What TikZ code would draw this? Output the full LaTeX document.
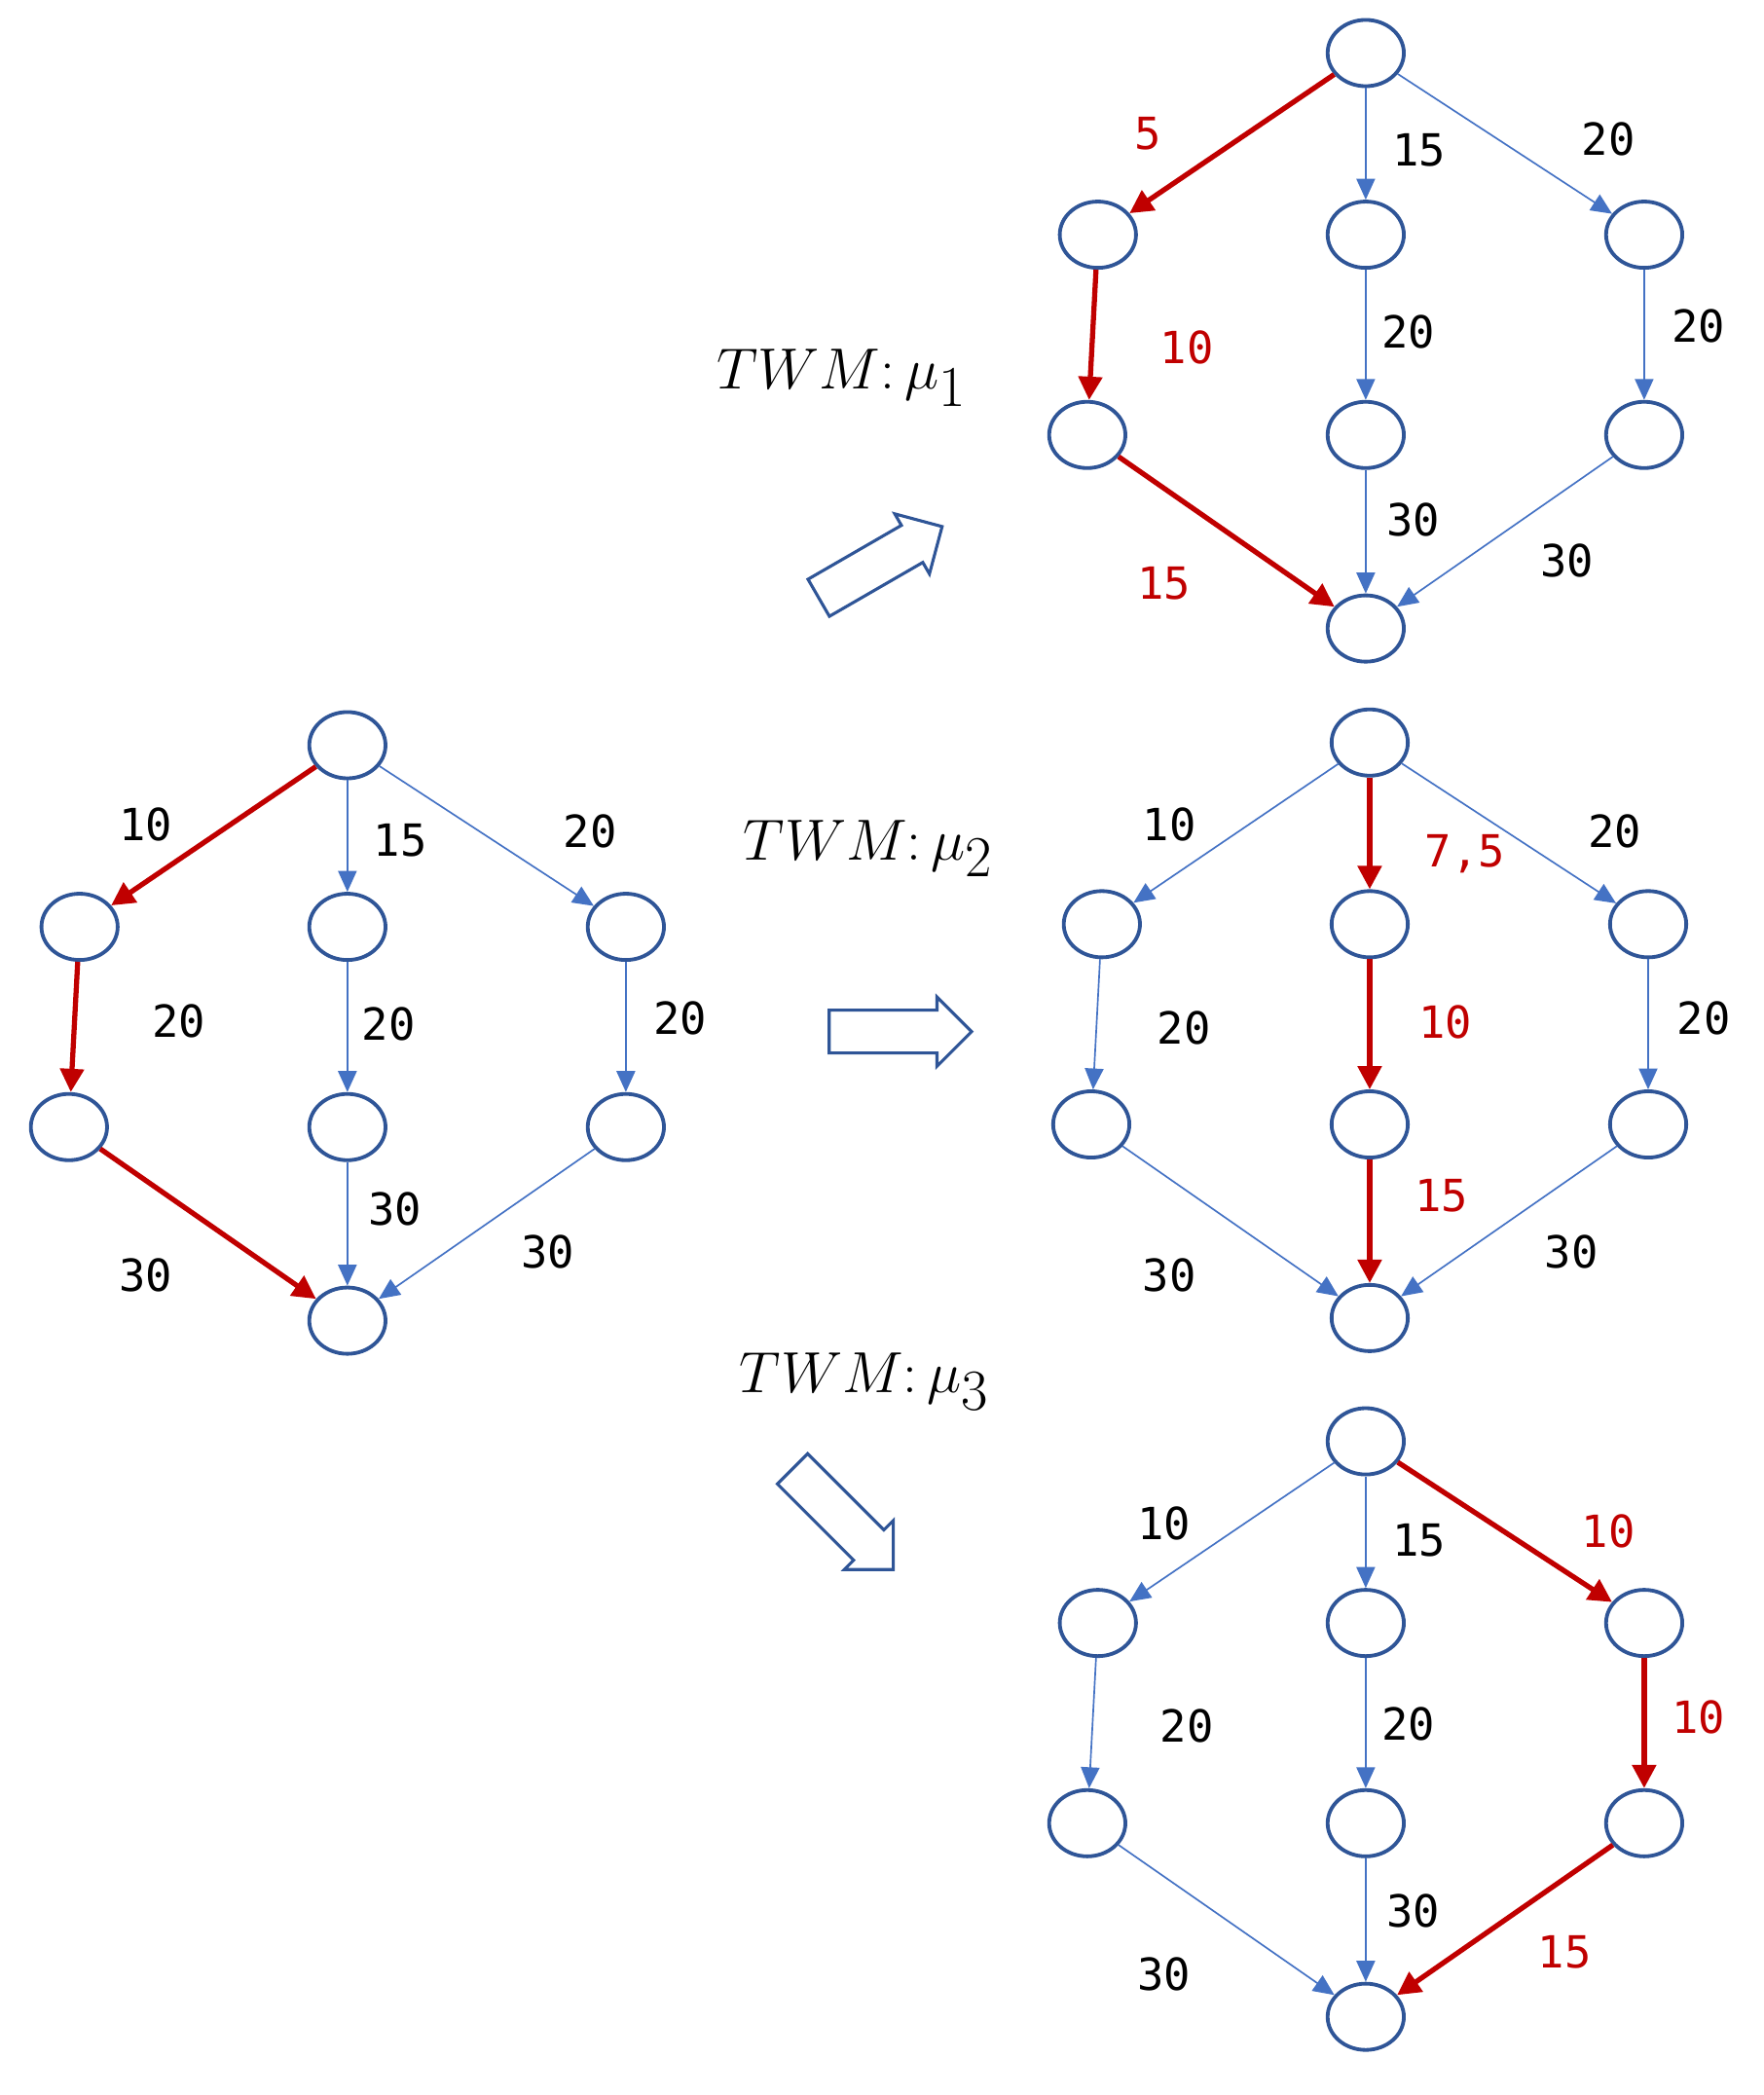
\documentclass[tikz,border=0pt]{standalone}
\usepackage{fontspec}
\newfontfamily\mono{DejaVu Sans Mono}
\usetikzlibrary{shapes.arrows,arrows.meta,shapes.geometric}
\definecolor{nb}{HTML}{2F5597}
\definecolor{eb}{HTML}{4472C4}
\definecolor{er}{HTML}{C00000}
\tikzset{
 v/.style={draw=nb,line width=1.6pt,ellipse,minimum width=1.15cm,minimum height=1.0cm,inner sep=0pt},
 e/.style={draw=eb,line width=0.7pt,-{Triangle[length=9pt,width=8pt]}},
 r/.style={draw=er,line width=2.2pt,-{Triangle[length=10pt,width=10pt]}},
 lb/.style={font=\mono\fontsize{19}{19}\selectfont},
 lr/.style={lb,text=er},
 tw/.style={font=\fontsize{38}{38}\selectfont},
 ha/.style={single arrow,draw=nb,line width=1.3pt,fill=white,minimum height=2.15cm,inner xsep=0pt,inner ysep=0.3cm,single arrow head extend=0.2cm}
}
\newcommand\mygraph[3]{
 \begin{scope}[shift={(#2,#3)}]
 \node[v] (#1t) at (0,0) {};
 \node[v] (#1a) at (-202,137) {};
 \node[v] (#1b) at (0,137) {};
 \node[v] (#1c) at (210,137) {};
 \node[v] (#1d) at (-210,288) {};
 \node[v] (#1e) at (0,288) {};
 \node[v] (#1f) at (210,288) {};
 \node[v] (#1z) at (0,434) {};
 \end{scope}}
\begin{document}
\begin{tikzpicture}[x=0.02cm,y=-0.02cm]
\useasboundingbox (0,0) rectangle (1330,1580);
\mygraph{L}{262}{562}
\draw[r] (Lt) -- (La); \draw[e] (Lt) -- (Lb); \draw[e] (Lt) -- (Lc);
\draw[r] (La) -- (Ld); \draw[e] (Lb) -- (Le); \draw[e] (Lc) -- (Lf);
\draw[r] (Ld) -- (Lz); \draw[e] (Le) -- (Lz); \draw[e] (Lf) -- (Lz);
\node[lb] (l1) at (110,622) {10}; \node[lb] (l2) at (302,634) {15}; \node[lb] (l3) at (445,627) {20};
\node[lb] (l4) at (135,770) {20}; \node[lb] (l5) at (293,772) {20}; \node[lb] (l6) at (513,768) {20};
\node[lb] (l7) at (298,912) {30}; \node[lb] (l8) at (110,962) {30}; \node[lb] (l9) at (413,944) {30};
\mygraph{A}{1030}{40}
\draw[r] (At) -- (Aa); \draw[e] (At) -- (Ab); \draw[e] (At) -- (Ac);
\draw[r] (Aa) -- (Ad); \draw[e] (Ab) -- (Ae); \draw[e] (Ac) -- (Af);
\draw[r] (Ad) -- (Az); \draw[e] (Ae) -- (Az); \draw[e] (Af) -- (Az);
\node[lr] (a1) at (866,101) {5}; \node[lb] (a2) at (1070,113) {15}; \node[lb] (a3) at (1213,105) {20};
\node[lr] (a4) at (895,262) {10}; \node[lb] (a5) at (1062,250) {20}; \node[lb] (a6) at (1281,246) {20};
\node[lb] (a7) at (1066,392) {30}; \node[lr] (a8) at (878,440) {15}; \node[lb] (a9) at (1182,423) {30};
\mygraph{B}{1033}{560}
\draw[e] (Bt) -- (Ba); \draw[r] (Bt) -- (Bb); \draw[e] (Bt) -- (Bc);
\draw[e] (Ba) -- (Bd); \draw[r] (Bb) -- (Be); \draw[e] (Bc) -- (Bf);
\draw[e] (Bd) -- (Bz); \draw[r] (Be) -- (Bz); \draw[e] (Bf) -- (Bz);
\node[lb] (b1) at (882,622) {10}; \node[lr] (b2) at (1105,644) {7,5}; \node[lb] (b3) at (1218,627) {20};
\node[lb] (b4) at (893,775) {20}; \node[lr] (b5) at (1090,771) {10}; \node[lb] (b6) at (1285,768) {20};
\node[lr] (b7) at (1087,902) {15}; \node[lb] (b8) at (882,962) {30}; \node[lb] (b9) at (1185,944) {30};
\mygraph{C}{1030}{1087}
\draw[e] (Ct) -- (Ca); \draw[e] (Ct) -- (Cb); \draw[r] (Ct) -- (Cc);
\draw[e] (Ca) -- (Cd); \draw[e] (Cb) -- (Ce); \draw[r] (Cc) -- (Cf);
\draw[e] (Cd) -- (Cz); \draw[e] (Ce) -- (Cz); \draw[r] (Cf) -- (Cz);
\node[lb] (c1) at (878,1149) {10}; \node[lb] (c2) at (1070,1162) {15}; \node[lr] (c3) at (1213,1155) {10};
\node[lb] (c4) at (895,1302) {20}; \node[lb] (c5) at (1062,1300) {20}; \node[lr] (c6) at (1281,1295) {10};
\node[lb] (c7) at (1066,1441) {30}; \node[lb] (c8) at (878,1489) {30}; \node[lr] (c9) at (1180,1472) {15};
\node[tw] (m1) at (635,285) {$TWM\colon\mu_1$};
\node[tw] (m2) at (655,640) {$TWM\colon\mu_2$};
\node[tw] (m3) at (652,1042) {$TWM\colon\mu_3$};
\node[ha,rotate=30] (h1) at (657,428) {};
\node[ha] (h2) at (671,778) {};
\node[ha,rotate=-45] (h3) at (630,1140) {};
\end{tikzpicture}
\end{document}
